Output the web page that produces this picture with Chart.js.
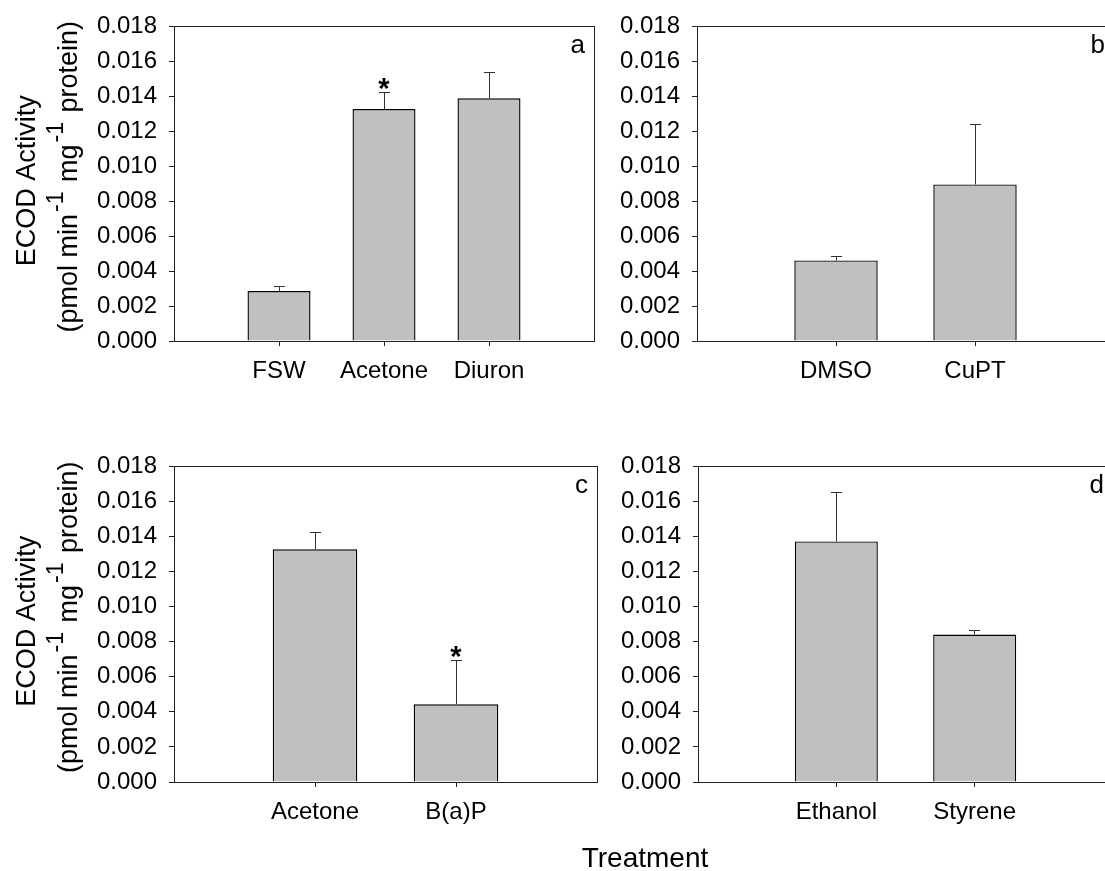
<!DOCTYPE html>
<html>
<head>
<meta charset="utf-8">
<title>ECOD Activity</title>
<script src="https://cdn.jsdelivr.net/npm/chart.js@4/dist/chart.umd.min.js"></script>
<style>
  html, body { margin: 0; padding: 0; background: #fff; }
  #page { position: relative; width: 1105px; height: 871px; overflow: hidden; background: #fff; }
  #page canvas { position: absolute; }
  #xtitle {
    position: absolute; left: 0; width: 1290px; top: 844px;
    text-align: center; font: 28px/28px 'Liberation Sans', Arial, Helvetica, sans-serif; color: #000;
  }
</style>
</head>
<body>
<div id="page">
  <canvas id="panelA"></canvas>
  <canvas id="panelB"></canvas>
  <canvas id="panelC"></canvas>
  <canvas id="panelD"></canvas>
  <div id="xtitle">Treatment</div>
</div>
<script>
// ---- data ----
const yTickValues = [0, 0.002, 0.004, 0.006, 0.008, 0.010, 0.012, 0.014, 0.016, 0.018];

const treatmentsA = ['FSW', 'Acetone', 'Diuron'];
const ecodA = [0.00286, 0.01327, 0.01389];
const semA = [0.00026, 0.00094, 0.00147];
const signifA = [false, true, false];

const treatmentsB = ['DMSO', 'CuPT'];
const ecodB = [0.00461, 0.00896];
const semB = [0.00023, 0.00343];
const signifB = [false, false];

const treatmentsC = ['Acetone', 'B(a)P'];
const ecodC = [0.01327, 0.00443];
const semC = [0.00094, 0.00249];
const signifC = [false, true];

const treatmentsD = ['Ethanol', 'Styrene'];
const ecodD = [0.01372, 0.00841];
const semD = [0.00278, 0.00024];
const signifD = [false, false];

// ---- drawing ----
const FONT = "'Liberation Sans', Arial, Helvetica, sans-serif";
const CANVAS_W = 620, CANVAS_H = 430;
const Y_AXIS_W = 90, X_AXIS_H = 50;
const LINE = '#222';

function crisp(v) { return Math.floor(v) + 0.5; }

// frame around the plot area, error whiskers, significance stars, panel letter
const panelDecor = {
  id: 'panelDecor',
  afterDatasetsDraw(chart, args, opts) {
    const ctx = chart.ctx;
    const ys = chart.scales.y;
    const meta = chart.getDatasetMeta(0);
    ctx.save();
    ctx.strokeStyle = '#333';
    ctx.lineWidth = 1;
    meta.data.forEach((bar, i) => {
      const x = crisp(bar.x);
      const yTop = ys.getPixelForValue(opts.means[i] + opts.errs[i]);
      ctx.beginPath();
      ctx.moveTo(x, bar.y);
      ctx.lineTo(x, crisp(yTop));
      ctx.moveTo(x - 5.5, crisp(yTop));
      ctx.lineTo(x + 5.5, crisp(yTop));
      ctx.stroke();
      if (opts.stars[i]) {
        ctx.fillStyle = '#000';
        ctx.font = 'bold 29px ' + FONT;
        ctx.textAlign = 'center';
        ctx.textBaseline = 'alphabetic';
        const m = ctx.measureText('*');
        ctx.fillText('*', bar.x, yTop - 3 - m.actualBoundingBoxDescent);
      }
    });
    ctx.restore();
  },
  afterDraw(chart, args, opts) {
    const ctx = chart.ctx;
    const a = chart.chartArea;
    ctx.save();
    ctx.strokeStyle = LINE;
    ctx.lineWidth = 1;
    ctx.strokeRect(crisp(a.left), crisp(a.top), Math.round(a.right - a.left), Math.round(a.bottom - a.top));
    ctx.fillStyle = '#000';
    ctx.font = '26px ' + FONT;
    ctx.textAlign = 'right';
    ctx.textBaseline = 'alphabetic';
    ctx.fillText(opts.letter, a.right - 9, a.top + 27);

    if (opts.yTitle) {
      const cy = (a.top + a.bottom) / 2;
      // first line
      ctx.save();
      ctx.translate(35, cy - 3);
      ctx.rotate(-Math.PI / 2);
      ctx.font = '27px ' + FONT;
      ctx.textAlign = 'center';
      ctx.fillText('ECOD Activity', 0, 0);
      ctx.restore();
      // second line, with superscripts
      const parts = [
        { t: '(pmol min', sup: false },
        { t: '-1', sup: true },
        { t: ' mg', sup: false },
        { t: '-1', sup: true },
        { t: ' protein)', sup: false }
      ];
      const fontFor = p => (p.sup ? '23px ' : '27px ') + FONT;
      let total = 0;
      parts.forEach(p => { ctx.font = fontFor(p); p.w = ctx.measureText(p.t).width + (p.sup ? 4 : 0); total += p.w; });
      ctx.save();
      ctx.translate(77, cy - 7);
      ctx.rotate(-Math.PI / 2);
      ctx.textAlign = 'left';
      let x = -total / 2;
      parts.forEach(p => {
        ctx.font = fontFor(p);
        ctx.fillText(p.t, x + (p.sup ? 2 : 0), p.sup ? -14 : 0);
        x += p.w;
      });
      ctx.restore();
    }
    ctx.restore();
  }
};

function makePanel(id, left, top, area, cats, means, errs, stars, letter, yTitle) {
  const cv = document.getElementById(id);
  cv.width = CANVAS_W; cv.height = CANVAS_H;
  cv.style.left = left + 'px'; cv.style.top = top + 'px';
  cv.style.width = CANVAS_W + 'px'; cv.style.height = CANVAS_H + 'px';

  const padding = {
    left: area.l - left - Y_AXIS_W,
    right: CANVAS_W - (area.r - left),
    top: area.t - top,
    bottom: CANVAS_H - (area.b - top) - X_AXIS_H
  };

  const tickFont = { family: FONT, size: 24 };

  return new Chart(cv, {
    type: 'bar',
    data: {
      datasets: [{
        data: cats.map((c, i) => ({ x: i + 1, y: means[i] })),
        backgroundColor: '#c0c0c0',
        borderColor: '#000',
        borderWidth: 1.4,
        barPercentage: 0.6,
        categoryPercentage: 1.0
      }]
    },
    options: {
      responsive: false,
      animation: false,
      events: [],
      layout: { padding },
      plugins: {
        legend: { display: false },
        tooltip: { enabled: false },
        panelDecor: { means, errs, stars, letter, yTitle }
      },
      scales: {
        x: {
          type: 'linear',
          min: 0,
          max: cats.length + 1,
          offset: false,
          afterBuildTicks: s => { s.ticks = cats.map((c, i) => ({ value: i + 1 })); },
          afterFit: s => { s.height = X_AXIS_H; },
          ticks: {
            callback: v => cats[Math.round(v) - 1],
            font: tickFont, color: '#000', padding: 11,
            maxRotation: 0, minRotation: 0, autoSkip: false
          },
          grid: { drawOnChartArea: false, drawTicks: true, tickLength: 5, color: LINE, offset: false },
          border: { display: false }
        },
        y: {
          min: 0,
          max: 0.018,
          afterBuildTicks: s => { s.ticks = yTickValues.map(v => ({ value: v })); },
          afterFit: s => { s.width = Y_AXIS_W; },
          ticks: {
            callback: v => v.toFixed(3),
            font: tickFont, color: '#000', padding: 12
          },
          grid: { drawOnChartArea: false, drawTicks: true, tickLength: 5, color: LINE },
          border: { display: false }
        }
      }
    },
    plugins: [panelDecor]
  });
}

makePanel('panelA', 0, 0, { l: 174, r: 594, t: 23, b: 341 }, treatmentsA, ecodA, semA, signifA, 'a', true);
makePanel('panelB', 600, 0, { l: 697, r: 1114, t: 23, b: 341 }, treatmentsB, ecodB, semB, signifB, 'b', false);
makePanel('panelC', 0, 440, { l: 174, r: 597, t: 463, b: 782 }, treatmentsC, ecodC, semC, signifC, 'c', true);
makePanel('panelD', 600, 440, { l: 698, r: 1113, t: 463, b: 782 }, treatmentsD, ecodD, semD, signifD, 'd', false);
</script>
</body>
</html>
